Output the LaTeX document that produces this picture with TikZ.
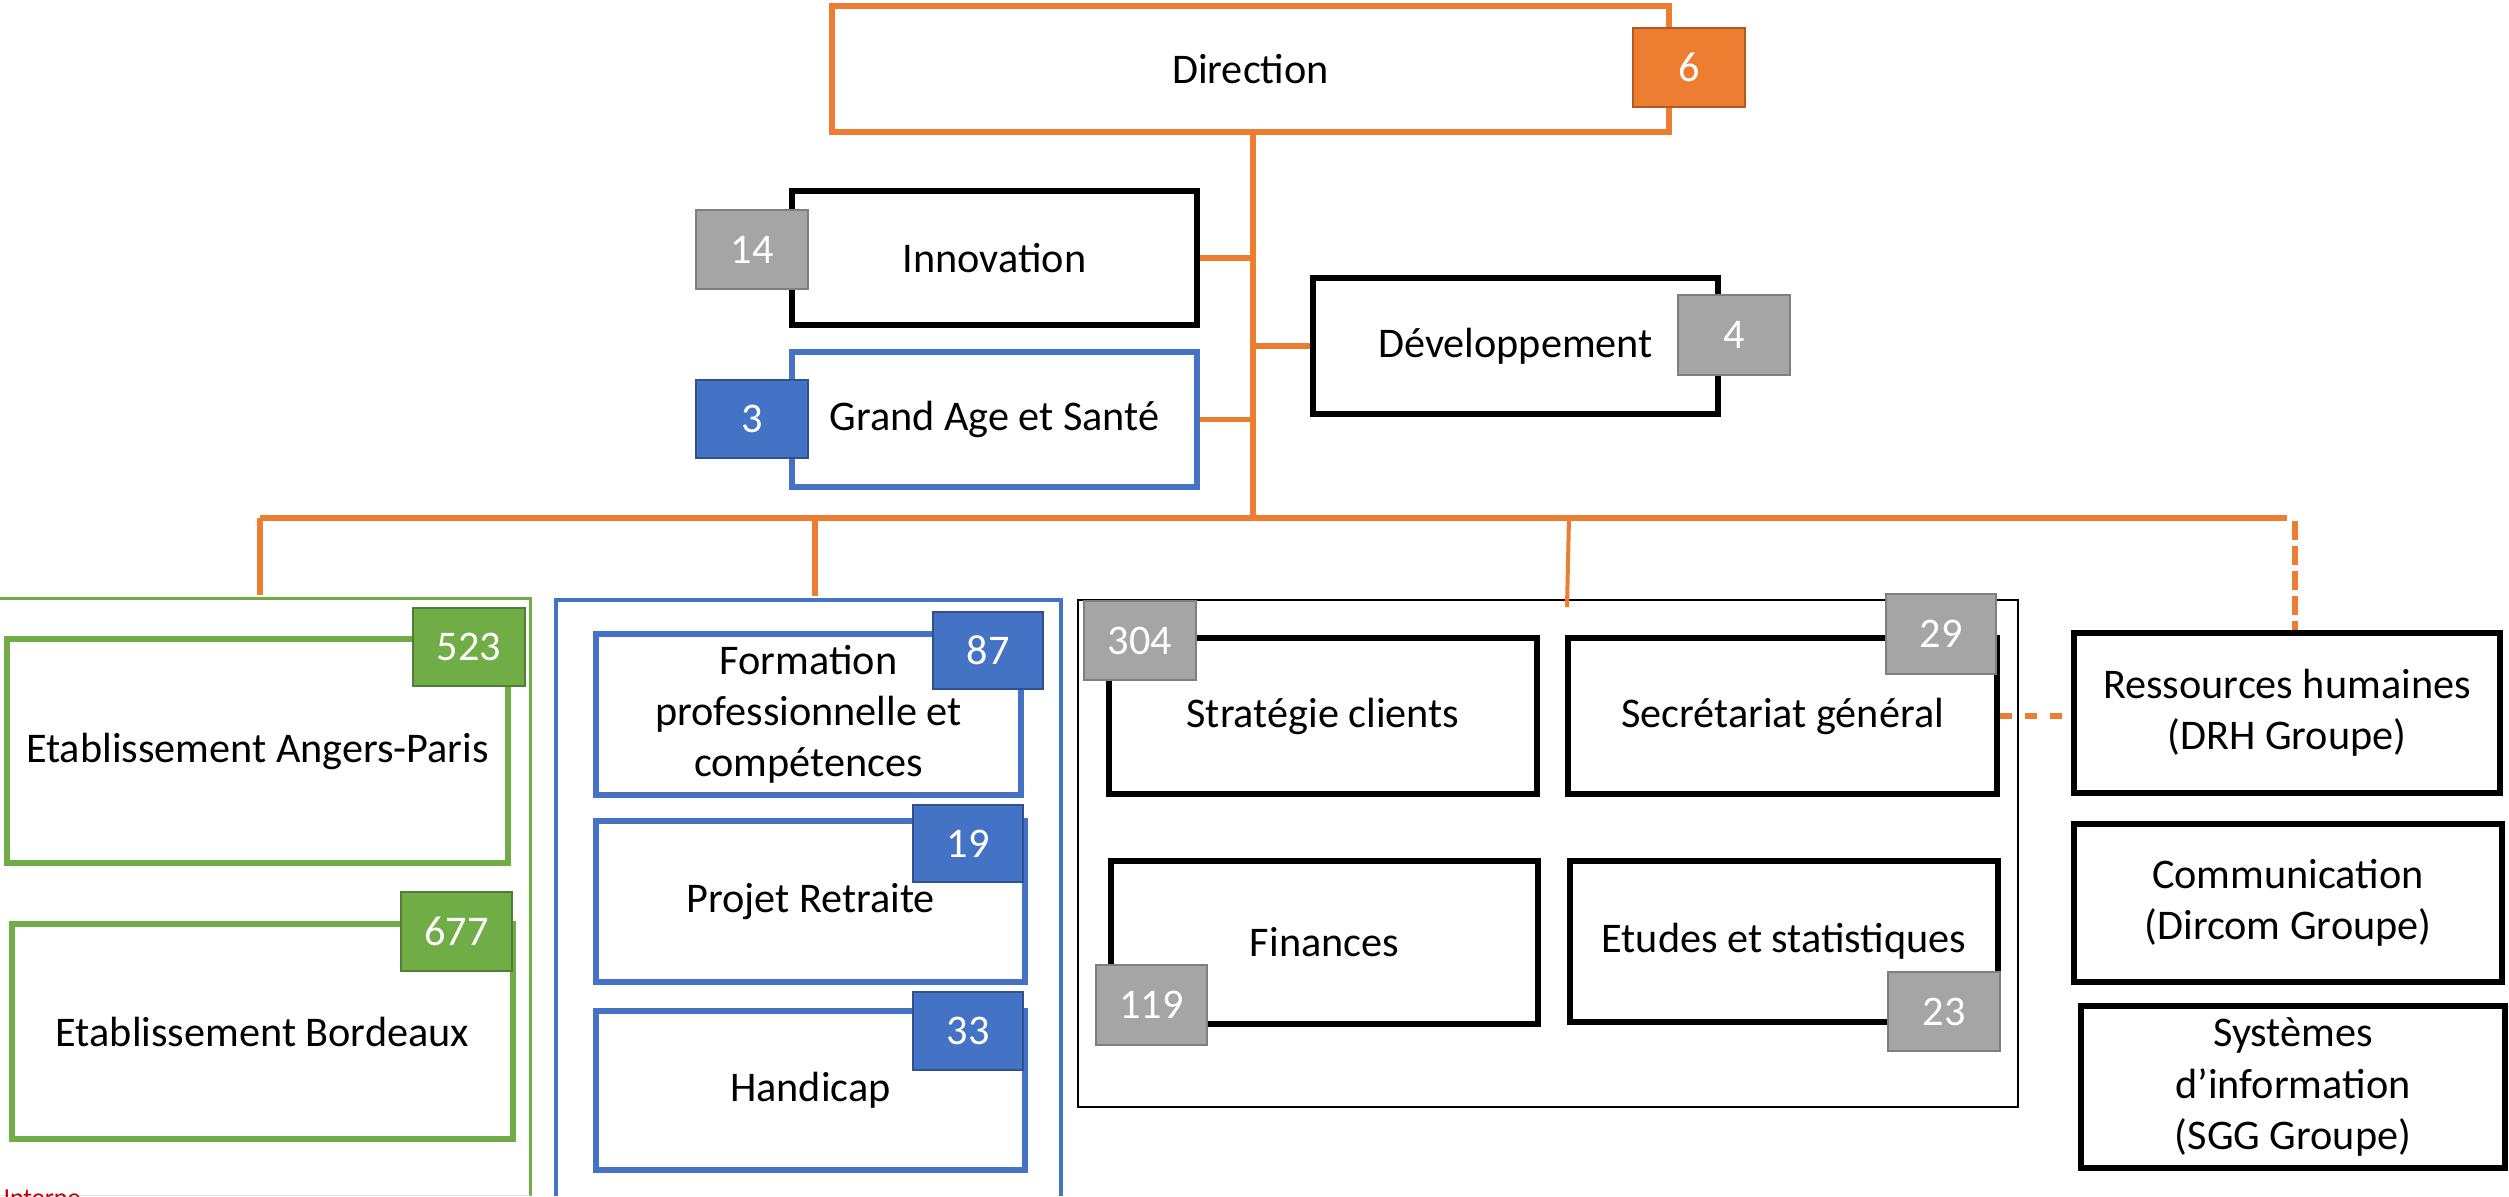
\documentclass[tikz,border=0pt]{standalone}
\usepackage{fontspec}
\setmainfont{Carlito}
\definecolor{myorange}{HTML}{ED7D31}
\definecolor{myorangedk}{HTML}{AE5A21}
\definecolor{myblue}{HTML}{4472C4}
\definecolor{mybluedk}{HTML}{2F528F}
\definecolor{mygreen}{HTML}{70AD47}
\definecolor{mygreendk}{HTML}{507E32}
\definecolor{mygray}{HTML}{A5A5A5}
\definecolor{mygraydk}{HTML}{7F7F7F}
\definecolor{interne}{HTML}{C00000}
\newcommand\mybox[7]{\node[#6, minimum width={(#4-#2)*0.4pt}, minimum height={(#5-#3)*0.4pt}] (#1) at ({(#2+#4)/2},{(#3+#5)/2}) {#7};}
\begin{document}
\begin{tikzpicture}[x=0.4pt,y=-0.4pt,
  txt/.style={font=\fontsize{16.9pt}{20.5pt}\selectfont},
  box/.style={draw, line width=2.1pt, fill=white, txt, align=center, inner sep=0pt},
  orangebox/.style={box, draw=myorange, line width=2.4pt},
  blackbox/.style={box, draw=black},
  bluebox/.style={box, draw=myblue},
  greenbox/.style={box, draw=mygreen, line width=2.2pt},
  badge/.style={draw, line width=0.8pt, text=white, txt, inner sep=0pt},
  obadge/.style={badge, fill=myorange, draw=myorangedk},
  gbadge/.style={badge, fill=mygray, draw=mygraydk},
  bbadge/.style={badge, fill=myblue, draw=mybluedk},
  grbadge/.style={badge, fill=mygreen, draw=mygreendk},
  conn/.style={draw=myorange, line width=2.2pt},
  dconnv/.style={conn, dash pattern=on 7.5pt off 2.5pt},
  dconnh/.style={conn, dash pattern=on 5pt off 5pt},
  container/.style={line width=1.2pt}
]
\useasboundingbox (0,0) rectangle (2509,1196);

% connector end points
\coordinate (trunk) at (1253,518);
\coordinate (busL) at (260,518);
\coordinate (busR) at (2287,518);
\coordinate (busB) at (815,518);
\coordinate (busK) at (1569,518);
\coordinate (gtop) at (260,595);
\coordinate (btop) at (815,596);
\coordinate (ktop) at (1567,607);
\coordinate (rhd) at (2295,521);

% containers
\draw[container, draw=mygreen] (0,598) -- (530,598) -- (530,1196);
\draw[container, draw=myblue, line width=1.4pt] (556,1196) -- (556,600) -- (1061,600) -- (1061,1196);
\mybox{kcont}{1078}{600}{2018}{1107}{draw=black, line width=1pt, inner sep=0pt}{}

% top boxes
\mybox{dir}{832}{6}{1669}{132}{orangebox}{Direction}
\mybox{inno}{792}{191}{1197}{325}{blackbox}{Innovation}
\mybox{gas}{792}{352}{1197}{487}{bluebox}{Grand Age et Santé}
\mybox{dev}{1313}{278}{1718}{414}{blackbox}{Développement}

\draw[conn] (dir.south -| trunk) -- (trunk);
\draw[conn] (inno.east) -- ([xshift=1.2pt]inno.east -| trunk);
\draw[conn] (gas.east) -- ([xshift=1.2pt]gas.east -| trunk);
\draw[conn] (dev.west) -- (dev.west -| trunk);
\draw[conn] (busL) -- (busR);
\draw[conn] (busL) -- (gtop);
\draw[conn] (busB) -- (btop);
\draw[conn, line width=1.6pt] (busK) -- (ktop);

% green group
\mybox{ang}{7}{639}{508}{863}{greenbox}{Etablissement Angers-Paris}
\mybox{bdx}{12}{924}{513}{1139}{greenbox}{Etablissement Bordeaux}

% blue group
\mybox{form}{596}{634}{1021}{795}{bluebox}{Formation\\professionnelle et\\compétences}
\mybox{proj}{596}{821}{1025}{982}{bluebox}{Projet Retraite}
\mybox{hand}{596}{1011}{1025}{1170}{bluebox}{Handicap}

% black group
\mybox{strat}{1109}{638}{1537}{794}{blackbox}{Stratégie clients}
\mybox{secr}{1568}{638}{1997}{794}{blackbox}{Secrétariat général}
\mybox{fin}{1111}{861}{1538}{1024}{blackbox}{Finances}
\mybox{etu}{1570}{861}{1998}{1022}{blackbox}{Etudes et statistiques}

% right column
\mybox{rh}{2074}{633}{2500}{793}{blackbox}{Ressources humaines\\(DRH Groupe)}
\mybox{comm}{2074}{824}{2502}{982}{blackbox}{Communication\\(Dircom Groupe)}
\mybox{sys}{2081}{1006}{2505}{1168}{blackbox}{Systèmes\\d’information\\(SGG Groupe)}

\draw[dconnv] (rhd) -- (rhd |- rh.north);
\draw[dconnh] (secr.east) -- (secr.east -| rh.west);

% badges
\mybox{b6}{1633}{28}{1745}{107}{obadge}{6}
\mybox{b14}{696}{210}{808}{289}{gbadge}{14}
\mybox{b3}{696}{380}{808}{458}{bbadge}{3}
\mybox{b4}{1678}{295}{1790}{375}{gbadge}{4}
\mybox{b523}{413}{608}{525}{686}{grbadge}{523}
\mybox{b677}{401}{892}{512}{971}{grbadge}{677}
\mybox{b87}{933}{612}{1043}{689}{bbadge}{87}
\mybox{b19}{913}{805}{1023}{882}{bbadge}{19}
\mybox{b33}{913}{992}{1023}{1070}{bbadge}{33}
\mybox{b304}{1084}{601}{1196}{680}{gbadge}{304}
\mybox{b29}{1886}{594}{1996}{674}{gbadge}{29}
\mybox{b119}{1096}{965}{1207}{1045}{gbadge}{119}
\mybox{b23}{1888}{972}{2000}{1051}{gbadge}{23}

% footer
\draw[black!12, line width=0.4pt] (0,1195) -- (530,1195);
\begin{scope}
\clip (0,1170) rectangle (300,1196);
\node[anchor=base west, text=interne, font=\fontsize{10.4pt}{12pt}\selectfont, inner sep=0pt] (interne) at (3,1206) {Interne};
\end{scope}
\end{tikzpicture}
\end{document}
